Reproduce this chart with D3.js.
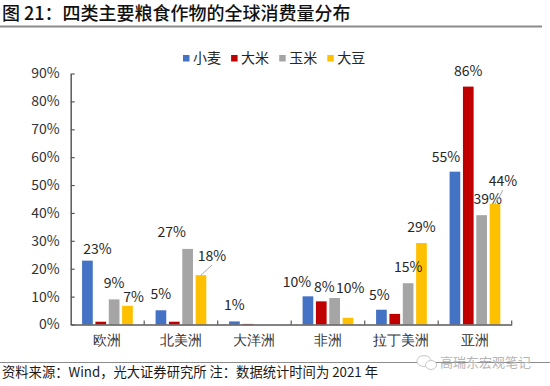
<!DOCTYPE html>
<html>
<head>
<meta charset="utf-8">
<script src="https://cdn.jsdelivr.net/npm/d3@7"></script>
<style>
  html, body { margin: 0; padding: 0; background: #fff; }
  svg { display: block; font-family: "Noto Sans CJK SC", "Noto Sans", sans-serif; }
</style>
</head>
<body>
<svg id="chart"></svg>
<script>
// 四类主要粮食作物的全球消费量分布（%）
const regions = ['欧洲', '北美洲', '大洋洲', '非洲', '拉丁美洲', '亚洲']
const crops = ['小麦', '大米', '玉米', '大豆']
const wheat = [22.9, 5.1, 1.1, 10.1, 5.3, 54.8]
const rice = [1.0, 1.0, 0.2, 8.3, 3.8, 85.3]
const corn = [9.0, 27.1, 0, 9.5, 14.8, 39.2]
const soy = [6.7, 17.7, 0, 2.4, 29.2, 43.2]
const wheatLabels = ['23%', '5%', '1%', '10%', '5%', '55%']
const riceLabels = [null, null, null, '8%', null, '86%']
const cornLabels = ['9%', '27%', null, '10%', '15%', '39%']
const soyLabels = ['7%', '18%', null, null, '29%', '44%']
const yTicks = [0, 10, 20, 30, 40, 50, 60, 70, 80, 90]

const colors = ['#4472C4', '#C00000', '#A5A5A5', '#FFC000']

// label nudges (dx, dy) from bar centre / top, as placed in the original
const nudge = {
    '欧洲|小麦': [10, -12], '欧洲|玉米': [0, -16], '欧洲|大豆': [6, -9],
    '北美洲|玉米': [-16, -17], '北美洲|大豆': [11, -19],
    '非洲|小麦': [-11, -14], '非洲|大米': [3, -14], '非洲|玉米': [15.5, -10],
    '拉丁美洲|小麦': [-2, -15],
    '亚洲|小麦': [-9, -15], '亚洲|玉米': [6, -16], '亚洲|大豆': [8, -23]
}
const leader = { '北美洲|大豆': true, '亚洲|大豆': true }

const series = [wheat, rice, corn, soy]
const labels = [wheatLabels, riceLabels, cornLabels, soyLabels]
const bars = []
regions.forEach((r, i) => {
    crops.forEach((c, j) => {
        bars.push({ region: r, crop: c, value: series[j][i], label: labels[j][i], color: colors[j] })
    })
})

const W = 550, H = 386
const svg = d3.select('#chart').attr('width', W).attr('height', H)

// title
svg.append('text')
    .attr('x', 2).attr('y', 20)
    .attr('font-size', 18).attr('font-weight', 500).attr('fill', '#111')
    .text('图 21：四类主要粮食作物的全球消费量分布')
svg.append('line')
    .attr('x1', 0).attr('x2', 542).attr('y1', 26.5).attr('y2', 26.5)
    .attr('stroke', '#8c8c8c').attr('stroke-width', 2)

const mLeft = 70.7, mRight = 511.7, mTop = 73.5, mBottom = 324.5

const x0 = d3.scaleBand().domain(regions).range([mLeft, mRight]).padding(0)
const x1 = d3.scaleBand().domain(crops).range([0, x0.bandwidth()])
    .paddingInner(0.2).paddingOuter(0.853)
const y = d3.scaleLinear().domain([0, 90]).range([mBottom, mTop])

// y axis
const yAxis = svg.append('g')
    .attr('transform', `translate(${mLeft},0)`)
    .call(d3.axisLeft(y).tickValues(yTicks).tickFormat(d => d + '%')
        .tickSizeInner(-4).tickSizeOuter(0).tickPadding(11))
yAxis.select('.domain').attr('stroke', '#595959').attr('stroke-width', 1.5)
yAxis.selectAll('.tick line').attr('stroke', '#595959').attr('stroke-width', 1.2)
yAxis.selectAll('.tick text').attr('font-size', 14).attr('fill', '#333')
    .attr('font-family', '"Noto Sans CJK SC", sans-serif')

// bars
svg.append('g').selectAll('rect')
    .data(bars)
    .enter()
    .append('rect')
    .attr('x', d => x0(d.region) + x1(d.crop))
    .attr('y', d => y(d.value))
    .attr('width', x1.bandwidth())
    .attr('height', d => mBottom - y(d.value))
    .attr('fill', d => d.color)

// x axis
const xAxis = svg.append('g')
    .attr('transform', `translate(0,${mBottom})`)
    .call(d3.axisBottom(x0).tickSize(0).tickPadding(11))
xAxis.select('.domain').attr('stroke', '#595959').attr('stroke-width', 1.5)
xAxis.selectAll('.tick text').attr('font-size', 14).attr('fill', '#333')
svg.append('g').selectAll('line')
    .data(regions.slice(1).map(r => x0(r)).concat([mRight]))
    .enter()
    .append('line')
    .attr('x1', d => d).attr('x2', d => d)
    .attr('y1', mBottom).attr('y2', mBottom - 4)
    .attr('stroke', '#595959').attr('stroke-width', 1.2)

// data labels
const lab = bars.filter(d => d.label)
const pos = d => {
    const n = nudge[d.region + '|' + d.crop] || [0, -16]
    const cx = x0(d.region) + x1(d.crop) + x1.bandwidth() / 2
    return { cx, top: y(d.value), x: cx + n[0], y: y(d.value) + n[1] }
}
svg.append('g').selectAll('text')
    .data(lab)
    .enter()
    .append('text')
    .attr('x', d => pos(d).x)
    .attr('y', d => pos(d).y)
    .attr('dy', '0.35em')
    .attr('text-anchor', 'middle')
    .attr('font-size', 14).attr('fill', '#262626')
    .text(d => d.label)
svg.append('g').selectAll('line')
    .data(lab.filter(d => leader[d.region + '|' + d.crop]))
    .enter()
    .append('line')
    .attr('x1', d => pos(d).cx)
    .attr('y1', d => pos(d).top)
    .attr('x2', d => pos(d).x)
    .attr('y2', d => pos(d).y + 9)
    .attr('stroke', '#a6a6a6').attr('stroke-width', 1)

// legend
const legend = svg.append('g').attr('transform', 'translate(183,58)')
const item = legend.selectAll('g')
    .data(crops)
    .enter()
    .append('g')
    .attr('transform', (d, i) => `translate(${i * 48.1},0)`)
item.append('rect')
    .attr('x', 0).attr('y', -3).attr('width', 6.5).attr('height', 6.5)
    .attr('fill', (d, i) => colors[i])
item.append('text')
    .attr('x', 10).attr('y', 0).attr('dy', '0.35em')
    .attr('font-size', 14).attr('fill', '#262626')
    .text(d => d)

// footer
svg.append('line')
    .attr('x1', 0).attr('x2', 550).attr('y1', 362.5).attr('y2', 362.5)
    .attr('stroke', '#8c8c8c').attr('stroke-width', 1.2)
const wm = svg.append('g').attr('transform', 'translate(416,362)')
wm.append('ellipse').attr('cx', 8).attr('cy', -1).attr('rx', 7).attr('ry', 5.5)
    .attr('fill', '#fff').attr('stroke', '#c8c8c8').attr('stroke-width', 1)
wm.append('ellipse').attr('cx', 15).attr('cy', 3).attr('rx', 5.5).attr('ry', 4.5)
    .attr('fill', '#fff').attr('stroke', '#c8c8c8').attr('stroke-width', 1)
wm.append('text')
    .attr('x', 24).attr('y', 0).attr('dy', '0.35em')
    .attr('font-size', 13).attr('fill', '#b5b5b5')
    .text('高瑞东宏观笔记')
svg.append('text')
    .attr('x', 2).attr('y', 377)
    .attr('font-size', 13.3).attr('fill', '#1a1a1a')
    .text('资料来源：Wind，光大证券研究所 注：数据统计时间为 2021 年')
</script>
</body>
</html>
